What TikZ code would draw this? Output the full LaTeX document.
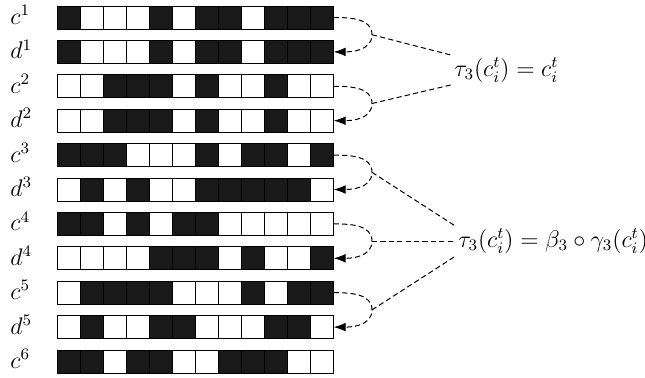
\documentclass[tikz,border=0pt]{standalone}
\usepackage{amsmath,amssymb}
\usepackage{tikz}
\usetikzlibrary{arrows.meta,positioning}

\begin{document}
\begin{tikzpicture}[x=0.5pt, y=-0.5pt, every node/.style={font=\fontsize{12}{14}\selectfont}, bit0/.style={draw, line width=0.5pt, fill=white}, bit1/.style={draw, line width=0.5pt, fill=black!90}, rowbox/.style={minimum width=138pt, minimum height=11.5pt, inner sep=0pt}, arr/.style={-{Latex[length=6pt,width=4.4pt]}, dash pattern=on 2.6pt off 1.6pt, line width=0.5pt}, link/.style={dash pattern=on 2.6pt off 1.6pt, line width=0.5pt}, eq/.style={inner sep=1pt}]
\useasboundingbox (0,0) rectangle (645,377);
% rows of bits
\foreach \name/\lbl/\bits [count=\k from 0] in {c1/c^1/{1,0,0,0,1,0,1,1,0,1,1,1}, d1/d^1/{1,0,0,0,1,0,1,1,0,1,1,1}, c2/c^2/{0,0,1,1,1,0,1,0,0,1,0,0}, d2/d^2/{0,0,1,1,1,0,1,0,0,1,0,0}, c3/c^3/{1,1,1,0,0,0,1,0,1,1,0,1}, d3/d^3/{0,1,0,1,0,0,1,1,1,1,1,0}, c4/c^4/{1,1,0,1,0,1,1,0,0,0,0,0}, d4/d^4/{0,0,0,0,1,1,1,0,1,0,0,1}, c5/c^5/{0,1,1,1,1,0,0,0,1,0,1,1}, d5/d^5/{0,1,0,0,1,1,0,0,0,1,1,0}, c6/c^6/{1,1,0,1,1,0,0,1,1,1,0,0}} {
  \node[rowbox] (\name) at (195.3, 17.5+34.4*\k) {};
  \node[anchor=base west, inner sep=0pt] (l\name) at (10, 24.5+34.4*\k) {$\lbl$};
  \foreach \b [count=\j from 0] in \bits {\draw[bit\b] (57.3+23*\j, 6+34.4*\k) rectangle ++(23,23);}
}
% c -> d brackets
\foreach \k in {1,...,5} {
  \coordinate (m\k) at (372, 34.7+68.8*\k-68.8);
  \draw[arr] (c\k.east) to[out=0,in=90] (m\k) to[out=-90,in=0] (d\k.east);
}
\node[eq, anchor=west] (eqa) at (452, 70) {$\tau_3(c_i^t)=c_i^t$};
\node[eq, anchor=west] (eqb) at (456, 241.1) {$\tau_3(c_i^t)=\beta_3\circ\gamma_3(c_i^t)$};
\draw[link] (m1) -- (eqa.north west); \draw[link] (m2) -- (eqa.south west);
\draw[link] (m3) -- (eqb.north west); \draw[link] (m4) -- (eqb.west); \draw[link] (m5) -- (eqb.south west);
\end{tikzpicture}
\end{document}
